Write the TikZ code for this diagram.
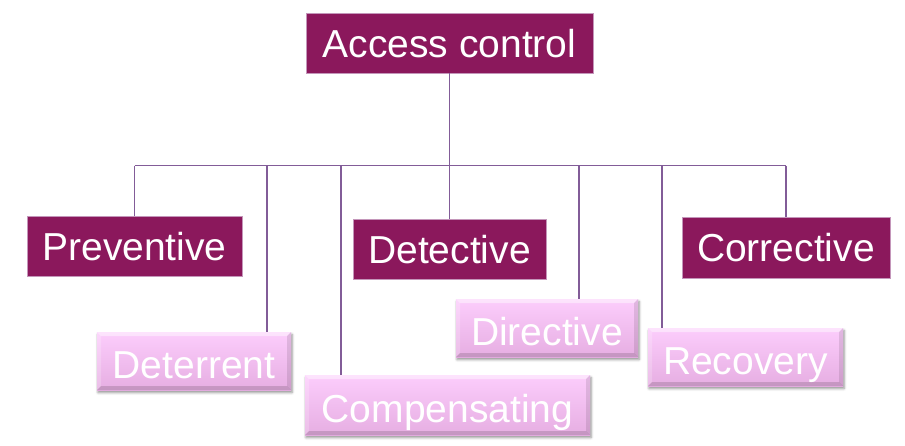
\documentclass[tikz,border=0pt]{standalone}
\usepackage{fontspec}
\setmainfont{Liberation Sans}
\usetikzlibrary{shadows,shadows.blur,calc}
\definecolor{dark}{RGB}{139,24,92}
\definecolor{darkedge}{RGB}{196,150,186}
\definecolor{pinktop}{RGB}{252,205,252}
\definecolor{pinkbot}{RGB}{230,174,226}
\definecolor{linec}{RGB}{130,92,152}
\tikzset{
  boxfont/.style={font=\fontsize{39}{47}\selectfont},
  darkbox/.style={boxfont, fill=dark, draw=darkedge, line width=0.6pt, text=white, inner sep=0pt,
    text height=28pt, text depth=0pt},
  pinkbox/.style={boxfont, top color=pinktop, bottom color=pinkbot, draw=none, text=white, inner sep=0pt,
    text height=34pt, text depth=0pt,
    blur shadow={shadow xshift=1pt, shadow yshift=-2.5pt, shadow blur radius=2.5pt, shadow opacity=45},
    path picture={
      \fill[white, opacity=0.45] (path picture bounding box.north west) -- (path picture bounding box.north east)
        -- ([xshift=-4pt,yshift=-4pt]path picture bounding box.north east) -- ([xshift=4pt,yshift=-4pt]path picture bounding box.north west) -- cycle;
      \fill[white, opacity=0.2] (path picture bounding box.north west) -- ([xshift=4pt,yshift=-4pt]path picture bounding box.north west)
        -- ([xshift=4pt,yshift=4pt]path picture bounding box.south west) -- (path picture bounding box.south west) -- cycle;
      \fill[black, opacity=0.10] (path picture bounding box.north east) -- ([xshift=-4pt,yshift=-4pt]path picture bounding box.north east)
        -- ([xshift=-4pt,yshift=4pt]path picture bounding box.south east) -- (path picture bounding box.south east) -- cycle;
      \fill[black, opacity=0.14] (path picture bounding box.south west) -- (path picture bounding box.south east)
        -- ([xshift=-4pt,yshift=4pt]path picture bounding box.south east) -- ([xshift=4pt,yshift=4pt]path picture bounding box.south west) -- cycle;
    }},
  conn/.style={draw=linec, line width=1.3pt}
}
\begin{document}
\begin{tikzpicture}[x=1pt,y=-1pt]
\useasboundingbox (0,0) rectangle (905,445);
% main boxes
\node[darkbox, minimum width=287pt, minimum height=60pt] (access) at (449.5,43) {Access control};
\node[darkbox, minimum width=215pt, minimum height=60pt] (preventive) at (134.5,246) {Preventive};
\node[darkbox, minimum width=193pt, minimum height=60pt] (detective) at (449.5,249) {Detective};
\node[darkbox, minimum width=208pt, minimum height=61pt] (corrective) at (786,247.5) {Corrective};
% pink boxes
\node[pinkbox, minimum width=194pt, minimum height=58pt] (deterrent) at (194,361) {Deterrent};
\node[pinkbox, minimum width=285pt, minimum height=60pt] (compensating) at (447.5,405) {Compensating};
\node[pinkbox, minimum width=182pt, minimum height=58pt] (directive) at (547,328) {Directive};
\node[pinkbox, minimum width=195pt, minimum height=58pt] (recovery) at (745.5,357) {Recovery};
% bus coordinates
\coordinate (busy) at (0,165.5);
\coordinate (dt) at (267,165.5);
\coordinate (cp) at (341,165.5);
\coordinate (dr) at (579,165.5);
\coordinate (rc) at (662,165.5);
% connectors
\draw[conn] (preventive.north |- busy) -- (corrective.north |- busy);
\draw[conn] (access.south) -- (detective.north);
\draw[conn] (preventive.north |- busy) -- (preventive.north);
\draw[conn] (corrective.north |- busy) -- (corrective.north);
\draw[conn] (dt) -- (dt |- deterrent.north);
\draw[conn] (cp) -- (cp |- compensating.north);
\draw[conn] (dr) -- (dr |- directive.north);
\draw[conn] (rc) -- (rc |- recovery.north);
\end{tikzpicture}
\end{document}
